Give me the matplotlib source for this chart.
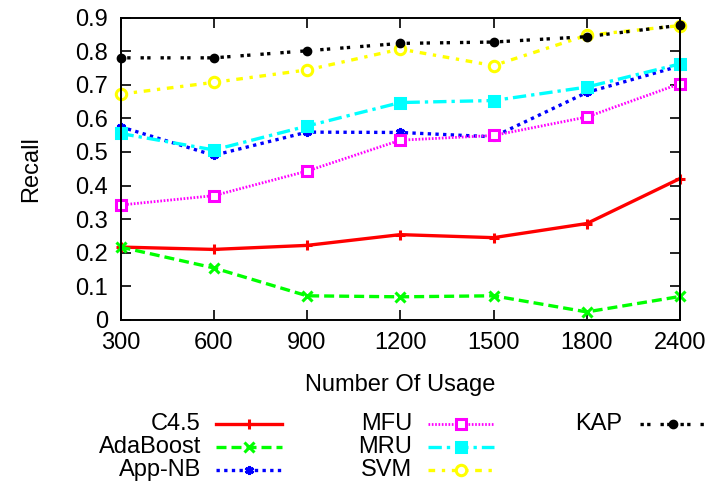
import numpy as np
import matplotlib.pyplot as plt
from matplotlib.lines import Line2D
from matplotlib.ticker import FormatStrFormatter

plt.rcParams['font.family'] = ['Liberation Sans', 'DejaVu Sans']

# Data
usage = ['300', '600', '900', '1200', '1500', '1800', '2400']
c45 = [0.217, 0.210, 0.222, 0.254, 0.245, 0.287, 0.421]
adaboost = [0.217, 0.155, 0.072, 0.069, 0.072, 0.024, 0.070]
app_nb = [0.575, 0.490, 0.559, 0.558, 0.545, 0.677, 0.756]
mfu = [0.342, 0.370, 0.443, 0.535, 0.549, 0.604, 0.703]
mru = [0.555, 0.506, 0.577, 0.647, 0.653, 0.693, 0.762]
svm = [0.672, 0.707, 0.744, 0.806, 0.757, 0.847, 0.876]
kap = [0.780, 0.780, 0.801, 0.823, 0.827, 0.843, 0.877]

# Style for each series: label, values, colour, dashes, marker, open marker
series = [
    ('C4.5', c45, '#ff0000', (None, None), '+', False),
    ('AdaBoost', adaboost, '#00ff00', (0, (3, 1.5)), 'x', False),
    ('App-NB', app_nb, '#0000ff', (0, (1, 1.3)), (6, 2, 0), False),
    ('MFU', mfu, '#ff00ff', (0, (0.6, 0.6)), 's', True),
    ('MRU', mru, '#00ffff', (0, (4, 1.5, 1, 1.5)), 's', False),
    ('SVM', svm, '#ffff00', (0, (2, 2, 1, 2)), 'o', True),
    ('KAP', kap, '#000000', (0, (1, 1, 1, 3)), 'o', False),
]

FS = 17
fig = plt.figure(figsize=(7.07, 4.92), dpi=100)
ax = fig.add_axes([0.1705, 0.3496, 0.7913, 0.6148])

x = np.arange(len(usage))


def style(name, color, dashes, marker, hollow):
    kw = dict(color=color, linewidth=2.4, marker=marker, markersize=6.5,
              markeredgewidth=2.2, markeredgecolor=color)
    if dashes[0] is None:
        kw['linestyle'] = '-'
    else:
        kw['linestyle'] = dashes
    if hollow:
        kw['markerfacecolor'] = 'white'
    else:
        kw['markerfacecolor'] = color
    if name == 'MFU':
        kw['linewidth'] = 2.0
    if name == 'SVM':
        kw['markersize'] = 7.5
    if name == 'KAP':
        kw['markersize'] = 6
        kw['markeredgewidth'] = 1
    return kw


for name, vals, color, dashes, marker, hollow in series:
    ax.plot(x, vals, clip_on=False, **style(name, color, dashes, marker, hollow))

ax.set_xlim(0, len(usage) - 1)
ax.set_ylim(0, 0.9)
ax.set_xticks(x)
ax.set_xticklabels(usage)
ax.set_yticks(np.arange(0, 0.91, 0.1))
ax.yaxis.set_major_formatter(FormatStrFormatter('%g'))
ax.tick_params(direction='in', length=7, width=1.2, top=True, right=True,
               labelsize=FS, pad=9)
for sp in ax.spines.values():
    sp.set_linewidth(1.4)
ax.set_xlabel('Number Of Usage', fontsize=FS)
ax.set_ylabel('Recall', fontsize=FS)
ax.xaxis.set_label_coords(0.5, -0.18)
ax.yaxis.set_label_coords(-0.14, 0.5)

# gnuplot-like legend: right aligned labels, sample line to the right
col_text = [201, 412, 622]
col_line = [(216, 282), (428, 494), (640, 706)]
row_y = [424, 447, 470]
W, H = 707.0, 492.0
for i, (name, vals, color, dashes, marker, hollow) in enumerate(series):
    c, r = divmod(i, 3)
    y = 1 - row_y[r] / H
    fig.text(col_text[c] / W, y, name, ha='right', va='center', fontsize=FS)
    x0, x1 = col_line[c]
    kw = style(name, color, dashes, marker, hollow)
    kw['marker'] = None
    fig.add_artist(Line2D([x0 / W, x1 / W], [y, y], transform=fig.transFigure, **kw))
    kw = style(name, color, dashes, marker, hollow)
    kw['linestyle'] = 'none'
    fig.add_artist(Line2D([(x0 + x1) / 2 / W], [y], transform=fig.transFigure, **kw))

fig.savefig('out.png', dpi=100)
